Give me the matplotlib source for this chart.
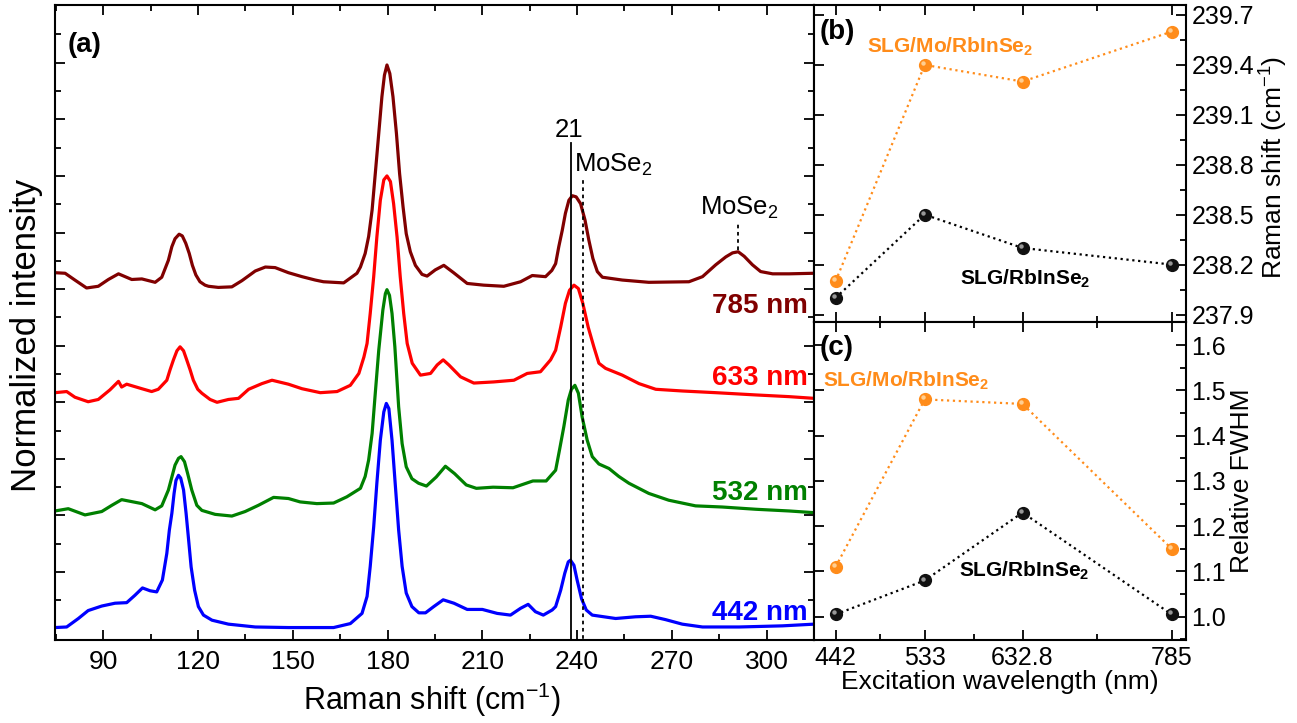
import matplotlib
matplotlib.use("Agg")
import matplotlib.pyplot as plt
from matplotlib.ticker import FixedLocator, MultipleLocator, NullFormatter
from matplotlib.transforms import offset_copy

plt.rcParams['font.family'] = ['Liberation Sans', 'DejaVu Sans']
plt.rcParams['mathtext.default'] = 'regular'

# ---- panel (a): Raman spectra, (shift cm-1, stacked normalized intensity) ----
spec_785 = [(74.7, 5.29), (77.9, 5.28), (81.0, 5.16), (84.7, 5.02), (88.4, 5.05), (91.6, 5.17),
            (94.8, 5.27), (99.0, 5.17), (102.2, 5.18), (106.4, 5.12), (108.5, 5.21),
            (110.6, 5.51), (111.7, 5.75), (112.7, 5.89), (114.0, 5.97), (115.0, 5.94), (116.1, 5.81),
            (117.2, 5.63), (118.2, 5.42), (119.3, 5.25), (120.6, 5.13), (122.2, 5.07),
            (123.3, 5.05), (126.4, 5.03), (130.7, 5.04), (133.9, 5.15), (138.1, 5.32), (141.3, 5.39),
            (144.4, 5.38), (148.6, 5.29), (152.9, 5.22), (157.1, 5.16), (159.7, 5.13), (166.1, 5.11),
            (170.3, 5.28), (171.4, 5.39), (172.9, 5.63), (174.0, 5.93), (175.1, 6.40), (176.1, 7.04),
            (177.2, 7.75), (178.2, 8.40), (179.0, 8.78), (179.8, 8.96), (180.7, 8.81), (181.7, 8.40),
            (182.8, 7.75), (183.8, 7.04), (184.9, 6.45), (185.9, 5.98), (187.2, 5.66), (188.8, 5.42),
            (190.9, 5.26), (192.5, 5.23), (195.1, 5.34), (197.8, 5.42), (200.9, 5.29), (205.2, 5.10),
            (210.4, 5.07), (216.8, 5.05), (222.1, 5.13), (225.8, 5.24), (230.0, 5.22), (232.0, 5.33),
            (233.2, 5.45), (234.2, 5.75), (235.3, 6.04), (236.3, 6.34), (237.4, 6.57), (238.5, 6.65),
            (239.7, 6.63), (241.1, 6.51), (242.5, 6.22), (243.7, 5.87), (245.0, 5.54), (246.4, 5.31),
            (248.0, 5.21), (254.3, 5.16), (262.7, 5.12), (275.4, 5.13), (279.7, 5.22), (283.9, 5.43),
            (287.1, 5.57), (289.2, 5.64), (291.0, 5.66), (292.9, 5.58), (295.5, 5.43), (298.1, 5.31),
            (301.9, 5.27), (307.1, 5.27), (315.0, 5.28)]

spec_633 = [(74.7, 3.17), (78.4, 3.19), (81.0, 3.09), (85.2, 3.01), (88.4, 3.05), (92.1, 3.22),
            (94.8, 3.37), (95.8, 3.27), (97.4, 3.32), (102.2, 3.24), (105.3, 3.19), (107.4, 3.23),
            (110.1, 3.39), (111.1, 3.57), (112.2, 3.75), (113.3, 3.91), (114.3, 3.98), (115.4, 3.91),
            (116.4, 3.75), (117.5, 3.57), (118.5, 3.39), (119.9, 3.23),
            (121.2, 3.16), (123.8, 3.05), (126.0, 3.00), (129.6, 3.05), (132.8, 3.07), (136.0, 3.23),
            (140.2, 3.33), (143.4, 3.39), (148.6, 3.32), (152.9, 3.24), (158.7, 3.17), (164.0, 3.19),
            (168.2, 3.30), (170.9, 3.51), (172.5, 3.80),
            (173.5, 4.04), (174.5, 4.57), (175.6, 5.22), (176.6, 5.92), (177.7, 6.57), (178.8, 6.93),
            (179.8, 7.00), (180.9, 6.90), (181.9, 6.51), (183.0, 5.92), (184.0, 5.22), (185.1, 4.57),
            (186.2, 4.04), (187.8, 3.69), (190.4, 3.48), (193.6, 3.51), (195.7, 3.66), (197.6, 3.75),
            (199.4, 3.66), (203.1, 3.45), (207.3, 3.34), (213.6, 3.36), (220.0, 3.39), (224.2, 3.51),
            (228.4, 3.54), (231.6, 3.75),
            (233.2, 3.92), (234.8, 4.33), (236.3, 4.75), (237.6, 4.98), (239.0, 5.07), (240.4, 5.01),
            (241.8, 4.75), (243.5, 4.33), (245.3, 3.98), (246.9, 3.69),
            (249.0, 3.60), (254.3, 3.48), (259.6, 3.33), (264.9, 3.23), (273.3, 3.20), (283.9, 3.17),
            (296.6, 3.13), (307.1, 3.10), (315.0, 3.07)]

spec_532 = [(74.7, 1.08), (78.9, 1.12), (84.2, 1.01), (89.5, 1.07), (92.7, 1.18), (95.8, 1.28),
            (102.2, 1.21), (106.4, 1.10), (108.5, 1.17),
            (110.6, 1.45), (111.7, 1.68), (112.7, 1.89), (113.8, 2.01), (114.6, 2.04), (115.7, 1.95),
            (116.7, 1.74), (118.0, 1.45), (119.6, 1.18), (121.2, 1.09),
            (125.4, 1.02), (130.7, 0.99), (134.9, 1.07), (139.1, 1.18), (143.9, 1.32), (148.6, 1.30),
            (152.3, 1.24), (157.6, 1.21), (162.9, 1.22), (167.1, 1.33),
            (171.4, 1.48), (172.9, 1.69), (174.0, 1.98), (175.1, 2.45), (176.1, 3.16), (177.2, 3.92),
            (178.5, 4.63), (179.3, 4.92), (179.8, 4.99), (180.6, 4.89), (181.4, 4.57), (182.3, 3.98),
            (183.5, 2.92), (184.6, 2.27), (185.9, 1.86), (187.7, 1.65), (189.8, 1.57), (192.3, 1.52),
            (195.4, 1.68), (198.3, 1.87), (201.2, 1.74), (204.9, 1.54), (208.1, 1.48), (213.4, 1.50),
            (219.7, 1.49), (226.0, 1.61), (230.2, 1.61),
            (233.2, 1.80), (234.4, 2.15), (235.8, 2.57), (237.2, 3.04), (238.2, 3.23), (239.3, 3.30),
            (240.4, 3.16), (241.6, 2.74), (243.2, 2.33), (244.8, 2.04), (246.9, 1.91), (250.1, 1.83),
            (253.2, 1.69), (256.4, 1.57), (262.7, 1.39), (269.0, 1.27), (277.5, 1.17), (285.9, 1.15),
            (296.6, 1.11), (307.1, 1.08), (315.0, 1.05)]

spec_442 = [(74.7, -0.98), (78.4, -0.97), (82.1, -0.82), (85.2, -0.68), (89.5, -0.60), (93.7, -0.55),
            (97.4, -0.54), (100.0, -0.41), (102.4, -0.28), (104.8, -0.33), (106.9, -0.35), (108.7, -0.14),
            (110.1, 0.33), (110.9, 0.74), (111.7, 1.04), (112.4, 1.39), (113.0, 1.62), (113.8, 1.71),
            (114.5, 1.66), (115.4, 1.45), (116.2, 1.04), (117.0, 0.57), (117.8, 0.09), (118.9, -0.32),
            (120.1, -0.61), (121.7, -0.76),
            (124.4, -0.85), (129.6, -0.92), (138.1, -0.97), (148.6, -0.98), (162.9, -0.98), (168.2, -0.91),
            (171.9, -0.73), (173.5, -0.43), (174.5, 0.10), (175.6, 0.80), (176.6, 1.57), (177.7, 2.33),
            (178.8, 2.83), (179.6, 2.98), (180.4, 2.89), (181.4, 2.33), (182.4, 1.57), (183.5, 0.74),
            (184.6, 0.10), (185.9, -0.37), (187.7, -0.61), (189.9, -0.72),
            (192.0, -0.72), (194.6, -0.61), (197.6, -0.49), (201.0, -0.55), (205.2, -0.66), (210.0, -0.66),
            (214.7, -0.73), (218.9, -0.76), (222.1, -0.64), (224.5, -0.57), (226.8, -0.70), (229.3, -0.76),
            (232.1, -0.67),
            (233.2, -0.61), (234.8, -0.32), (236.1, -0.02), (237.2, 0.18), (237.9, 0.21), (239.0, 0.12),
            (240.0, -0.14), (241.4, -0.47), (242.9, -0.67), (244.8, -0.76),
            (252.2, -0.82), (258.5, -0.79), (263.3, -0.78), (268.0, -0.84), (273.3, -0.92), (279.7, -0.97),
            (291.3, -0.97), (305.0, -0.95), (315.0, -0.92)]

spectra = [("785 nm", spec_785, "#800000", 4.58),
           ("633 nm", spec_633, "#FF0000", 3.30),
           ("532 nm", spec_532, "#008000", 1.28),
           ("442 nm", spec_442, "#0000FF", -0.84)]

# reference lines: (position, top of line)
line_21 = (238.2, 7.58)
line_mose2_a = (241.9, 6.96)
line_mose2_b = (290.9, 6.17, 5.69)

# ---- panels (b) and (c) ----
wavelengths = [442, 533, 632.8, 785]
wl_labels = ["442", "533", "632.8", "785"]
shift_mo = [238.1, 239.4, 239.3, 239.6]
shift_slg = [238.0, 238.5, 238.3, 238.2]
fwhm_mo = [1.11, 1.48, 1.47, 1.15]
fwhm_slg = [1.005, 1.08, 1.23, 1.005]

ORANGE = "#FF8C1A"

fig = plt.figure(figsize=(12.97, 7.23), dpi=100)
W, H = 1297.0, 723.0


def frac(x0, y0, x1, y1):
    return [x0 / W, 1 - y1 / H, (x1 - x0) / W, (y1 - y0) / H]


def style_ticks(ax, size):
    ax.tick_params(which='both', direction='in', top=True, right=True, width=1.3)
    ax.tick_params(which='major', length=7, labelsize=size)
    ax.tick_params(which='minor', length=4)
    for s in ax.spines.values():
        s.set_linewidth(1.5)


ax = fig.add_axes(frac(55, 5, 814, 640))
for name, spec, col, ylab in spectra:
    xs = [p[0] for p in spec]
    ys = [p[1] for p in spec]
    ax.plot(xs, ys, color=col, lw=2.3, solid_joinstyle='round')
    ax.text(313, ylab, name, color=col, fontsize=20, fontweight='bold', ha='right', va='baseline')

ax.plot([line_21[0]] * 2, [-1.3, line_21[1]], color='black', lw=1.3)
ax.plot([line_mose2_a[0]] * 2, [-1.3, line_mose2_a[1]], color='black', lw=1.3, ls=(0, (2, 2)))
ax.plot([line_mose2_b[0]] * 2, [line_mose2_b[2], line_mose2_b[1]], color='black', lw=1.3, ls=(0, (2, 2)))
ax.text(237.6, 7.69, "21", fontsize=18.5, ha='center', va='baseline')
ax.text(238.9, 7.07, "MoSe$_2$", fontsize=18.5, ha='left', va='baseline')
ax.text(291.3, 6.31, "MoSe$_2$", fontsize=18.5, ha='center', va='baseline')
ax.text(0.017, 0.937, "(a)", transform=ax.transAxes, fontsize=20, fontweight='bold', va='center')

ax.set_xlim(74.7, 315)
ax.set_ylim(-1.2, 10.02)
ax.xaxis.set_major_locator(MultipleLocator(30))
ax.xaxis.set_minor_locator(MultipleLocator(15))
ax.yaxis.set_major_locator(FixedLocator(list(range(0, 10))))
ax.yaxis.set_minor_locator(FixedLocator([k + 0.5 for k in range(-1, 10)]))
ax.yaxis.set_major_formatter(NullFormatter())
style_ticks(ax, 19)
ax.tick_params(axis='x', pad=7)
fig.text(432 / W, 1 - 700 / H, "Raman shift (cm$^{-1}$)", fontsize=22, ha='center', va='center')
fig.text(27 / W, 1 - 335 / H, "Normalized intensity", fontsize=25, rotation=90, ha='center', va='center')


def balls(axp, xs, ys, col, hl):
    axp.plot(xs, ys, 'o', ms=8.5, color=col, mec=col, zorder=3)
    tr = offset_copy(axp.transData, fig=fig, x=-1.4, y=1.4, units='points')
    axp.plot(xs, ys, 'o', ms=3.2, color=hl, mec='none', alpha=0.8, transform=tr, zorder=4)


# (b)
axb = fig.add_axes(frac(814, 5, 1186, 322))
axb.plot(wavelengths, shift_mo, ls=':', color=ORANGE, lw=1.6)
axb.plot(wavelengths, shift_slg, ls=':', color='black', lw=1.6)
balls(axb, wavelengths, shift_mo, ORANGE, '#FFE0B0')
balls(axb, wavelengths, shift_slg, '#111111', '#BBBBBB')
axb.set_xlim(420, 799.6)
axb.set_ylim(237.855, 239.76)
axb.yaxis.set_major_locator(MultipleLocator(0.3))
axb.yaxis.set_minor_locator(MultipleLocator(0.15))
axb.yaxis.tick_right()
axb.set_yticks([237.9, 238.2, 238.5, 238.8, 239.1, 239.4, 239.7])
axb.set_xticks(wavelengths)
axb.set_xticks([487.5, 582.9, 708.9], minor=True)
axb.xaxis.set_major_formatter(NullFormatter())
style_ticks(axb, 18)
axb.tick_params(axis='y', left=True, right=True, labelleft=False, labelright=True, pad=4)
axb.text(0.016, 0.916, "(b)", transform=axb.transAxes, fontsize=20, fontweight='bold', va='center')
axb.text(0.142, 0.848, "SLG/Mo/RbInSe$_2$", transform=axb.transAxes, fontsize=15,
         fontweight='bold', color=ORANGE, va='baseline')
axb.text(0.392, 0.117, "SLG/RbInSe$_2$", transform=axb.transAxes, fontsize=15,
         fontweight='bold', color='black', va='baseline')
fig.text(1274 / W, 1 - 167 / H, "Raman shift (cm$^{-1}$)", fontsize=19, rotation=90,
         ha='center', va='center')

# (c)
axc = fig.add_axes(frac(814, 322, 1186, 640))
axc.plot(wavelengths, fwhm_mo, ls=':', color=ORANGE, lw=1.6)
axc.plot(wavelengths, fwhm_slg, ls=':', color='black', lw=1.6)
balls(axc, wavelengths, fwhm_mo, ORANGE, '#FFE0B0')
balls(axc, wavelengths, fwhm_slg, '#111111', '#BBBBBB')
axc.set_xlim(420, 799.6)
axc.set_ylim(0.9485, 1.651)
axc.yaxis.set_major_locator(MultipleLocator(0.1))
axc.yaxis.set_minor_locator(MultipleLocator(0.05))
axc.yaxis.tick_right()
axc.set_xticks(wavelengths)
axc.set_xticklabels(wl_labels)
axc.set_xticks([487.5, 582.9, 708.9], minor=True)
style_ticks(axc, 18)
axc.tick_params(axis='y', left=True, right=True, labelleft=False, labelright=True, pad=4)
axc.tick_params(axis='x', pad=4)
axc.text(0.016, 0.917, "(c)", transform=axc.transAxes, fontsize=20, fontweight='bold', va='center')
axc.text(0.023, 0.797, "SLG/Mo/RbInSe$_2$", transform=axc.transAxes, fontsize=15,
         fontweight='bold', color=ORANGE, va='baseline')
axc.text(0.39, 0.199, "SLG/RbInSe$_2$", transform=axc.transAxes, fontsize=15,
         fontweight='bold', color='black', va='baseline')
fig.text(1242 / W, 1 - 481 / H, "Relative FWHM", fontsize=19, rotation=90, ha='center', va='center')
fig.text(1000 / W, 1 - 682 / H, "Excitation wavelength (nm)", fontsize=19, ha='center', va='center')

fig.savefig("out.png", dpi=100)
